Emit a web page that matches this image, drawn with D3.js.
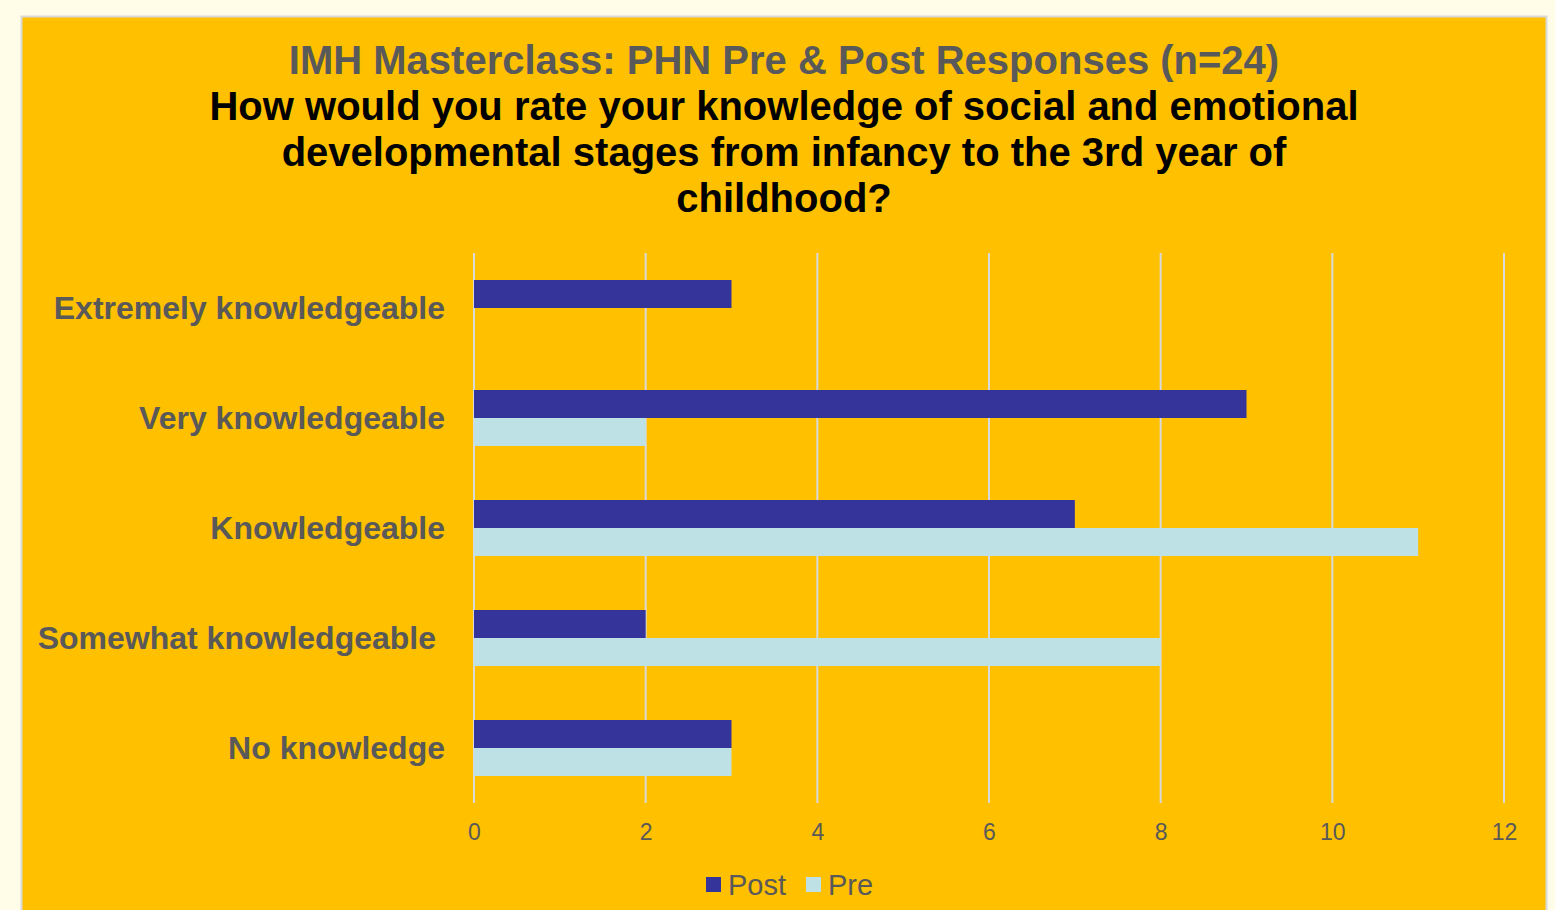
<!DOCTYPE html>
<html lang="en">
<head>
<meta charset="utf-8">
<title>IMH Masterclass</title>
<script src="https://d3js.org/d3.v7.min.js"></script>
<style>
    body { margin: 0; background-color: #fffde8; font-family: "Liberation Sans", Arial, sans-serif; }
    svg { display: block; }
</style>
</head>
<body>
<div id="chart_div"></div>
<script>
"use strict";
var categories = ["Extremely knowledgeable", "Very knowledgeable", "Knowledgeable", "Somewhat knowledgeable", "No knowledge"];
var seriesNames = ["Post", "Pre"];
var postValues = [3, 9, 7, 2, 3];
var preValues = [0, 2, 11, 8, 3];
var xTicks = [0, 2, 4, 6, 8, 10, 12];
var titleLines = ["How would you rate your knowledge of social and emotional",
                  "developmental stages from infancy to the 3rd year of",
                  "childhood?"];

var svg_width = 1555, svg_height = 910;
var colors = { Post: "#35349a", Pre: "#bde1e4" };
var grey = "#595959";

var svg = d3.select("#chart_div").append("svg")
    .attr("width", svg_width).attr("height", svg_height);

// chart area box
svg.append("rect")
    .attr("x", 21.5).attr("y", 16.5)
    .attr("width", 1525).attr("height", 920)
    .attr("fill", "#ffc000")
    .attr("stroke", "#d9d9d9").attr("stroke-width", 2);

svg.append("text")
    .attr("x", 784).attr("y", 74)
    .attr("text-anchor", "middle")
    .style("font-size", "40px").style("font-weight", "bold")
    .attr("fill", grey)
    .text("IMH Masterclass: PHN Pre & Post Responses (n=24)");

titleLines.forEach(function(t, i) {
    svg.append("text")
        .attr("x", 784).attr("y", 120 + i * 46)
        .attr("text-anchor", "middle")
        .style("font-size", "40px").style("font-weight", "bold")
        .attr("fill", "#000")
        .text(t);
});

var xscale = d3.scaleLinear().domain([0, 12]).range([474, 1504]);
var yscale = d3.scaleBand().domain(categories).range([253, 803]);
var inner = d3.scaleBand().domain(seriesNames).range([0, 56]);

// grid
svg.append("g").selectAll("line")
    .data(xTicks).enter().append("line")
    .attr("x1", function(d) { return xscale(d); })
    .attr("x2", function(d) { return xscale(d); })
    .attr("y1", 253).attr("y2", 803)
    .attr("stroke", "#d9d9d9").attr("stroke-width", 2);

var xaxis = d3.axisBottom(xscale).tickValues(xTicks).tickSize(0).tickPadding(21);
var gx = svg.append("g")
    .attr("transform", "translate(0,803)")
    .call(xaxis);
gx.select(".domain").remove();
gx.selectAll("text")
    .style("font-size", "23px")
    .style("font-family", "'Liberation Sans', Arial, sans-serif")
    .attr("fill", grey);

var yaxis = d3.axisLeft(yscale).tickSize(0).tickPadding(29);
var gy = svg.append("g")
    .attr("transform", "translate(474,1)")
    .call(yaxis);
gy.select(".domain").remove();
gy.selectAll("text")
    .style("font-size", "32px").style("font-weight", "bold")
    .style("font-family", "'Liberation Sans', Arial, sans-serif")
    .attr("fill", grey)
    .attr("dx", function(d) { return d === "Somewhat knowledgeable" ? -9 : 0; });

var rows = categories.map(function(c, i) {
    return [{ cat: c, s: "Post", v: postValues[i] }, { cat: c, s: "Pre", v: preValues[i] }];
});
var all = [].concat.apply([], rows);

svg.append("g").selectAll("rect")
    .data(all.filter(function(d) { return d.v > 0; }))
    .enter().append("rect")
    .attr("x", xscale(0))
    .attr("y", function(d) { return yscale(d.cat) + yscale.bandwidth() / 2 - 28 + inner(d.s); })
    .attr("width", function(d) { return xscale(d.v) - xscale(0); })
    .attr("height", inner.bandwidth())
    .attr("fill", function(d) { return colors[d.s]; });

// legend
var legend = svg.append("g").attr("transform", "translate(706,885)");
var lx = [0, 100];
seriesNames.forEach(function(s, i) {
    legend.append("rect")
        .attr("x", lx[i]).attr("y", -8)
        .attr("width", 15).attr("height", 15)
        .attr("fill", colors[s]);
    legend.append("text")
        .attr("x", lx[i] + 22).attr("y", 10)
        .style("font-size", "29px")
        .attr("fill", grey)
        .text(s);
});
</script>
</body>
</html>
